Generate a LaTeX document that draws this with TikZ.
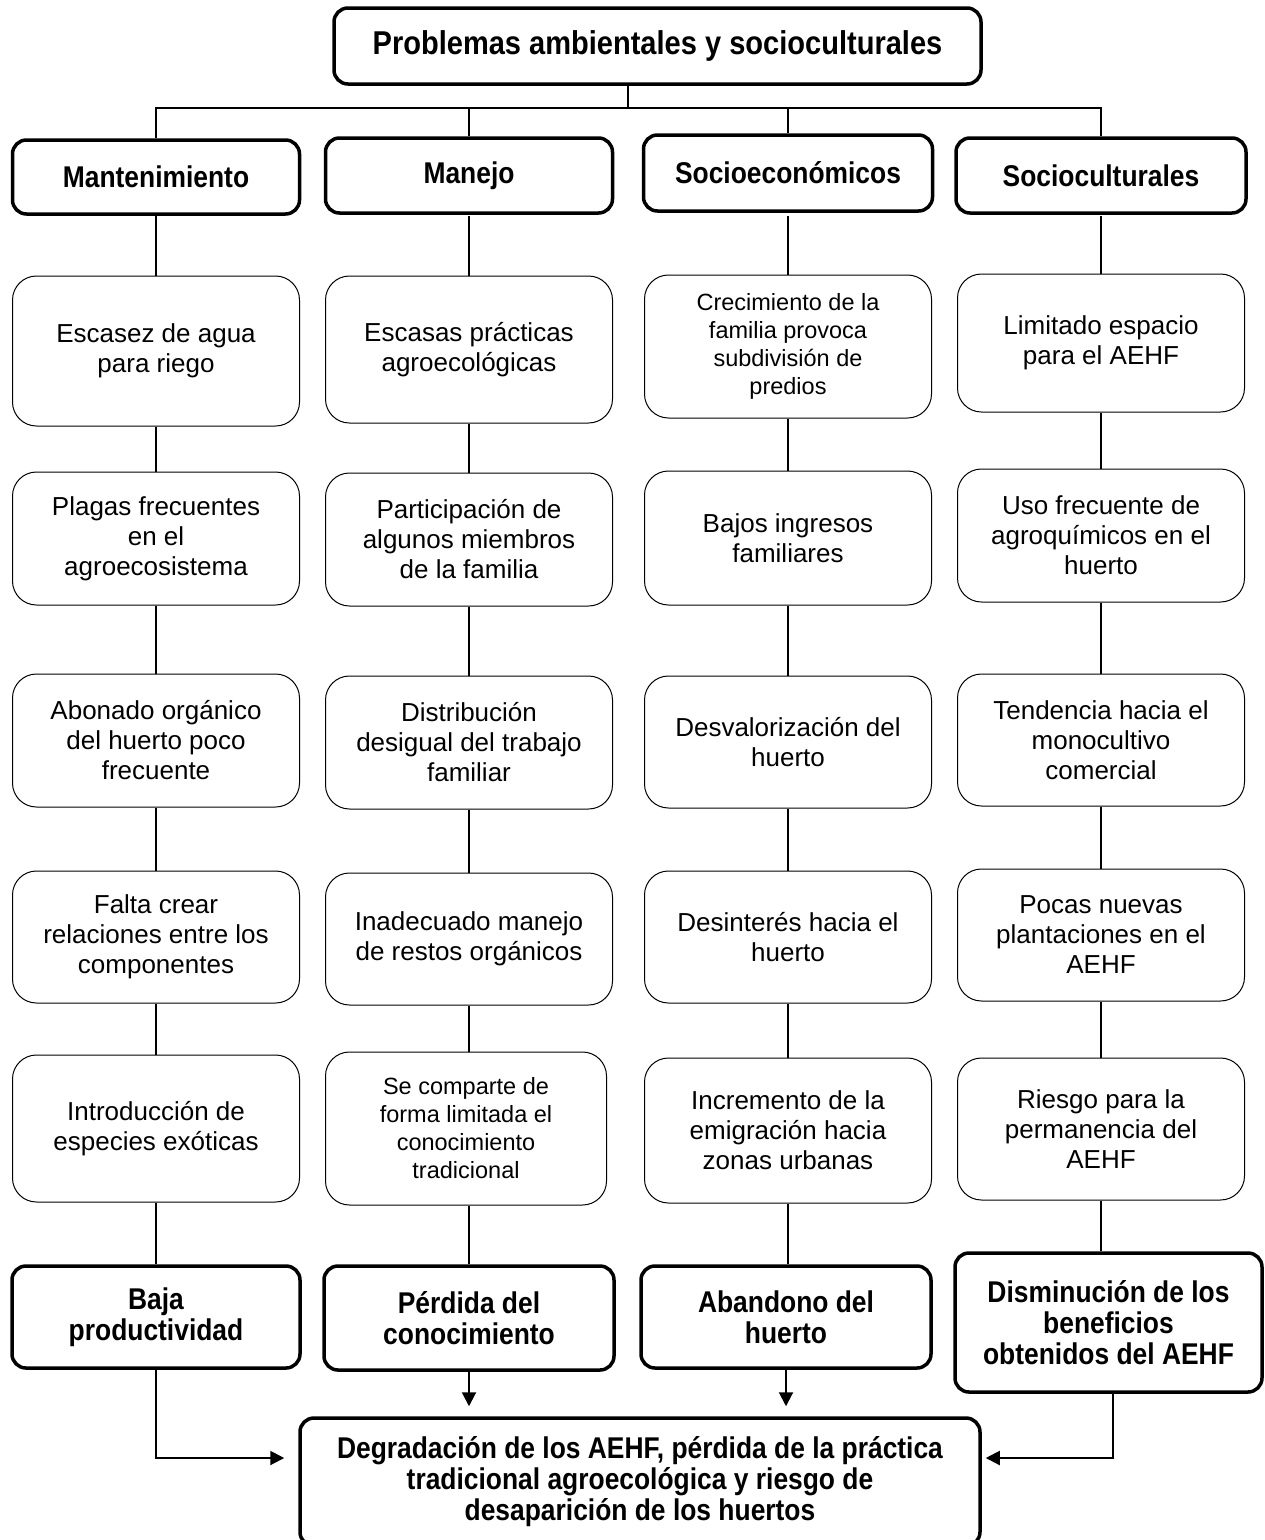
\documentclass[tikz,border=0pt]{standalone}
\usepackage{fontspec}
\setmainfont{Liberation Sans}[BoldFeatures={FakeStretch=0.88}]
\usetikzlibrary{arrows.meta}
\begin{document}
\begin{tikzpicture}[x=1pt,y=-1pt,
  bold/.style={draw, line width=3.5pt, rounded corners=14pt, align=center, inner sep=0pt,
    font=\bfseries\fontsize{30}{31}\selectfont},
  item/.style={draw, line width=1pt, rounded corners=24pt, align=center, inner sep=0pt,
    minimum width=287pt, font=\fontsize{26}{30}\selectfont},
  small/.style={font=\fontsize{23.5}{28}\selectfont},
  conn/.style={line width=2pt},
  arr/.style={line width=2pt, -{Triangle[length=14pt,width=14pt]}}
]
\useasboundingbox (0,0) rectangle (1265,1540);
% title
\node[bold, minimum width=647pt, minimum height=76pt, font=\bfseries\fontsize{33}{34}\selectfont] (title) at (657.5,46) {Problemas ambientales y socioculturales};
% headers
\node[bold, minimum width=287pt, minimum height=74pt] (h1) at (156,177) {Mantenimiento};
\node[bold, minimum width=287pt, minimum height=75pt] (h2) at (469,175.5) {Manejo\vphantom{M}};
\node[bold, minimum width=289pt, minimum height=76pt] (h3) at (788,173) {Socioeconómicos};
\node[bold, minimum width=290pt, minimum height=75pt] (h4) at (1101,175.5) {Socioculturales};
% column 1
\node[item, minimum height=150pt] (a1) at (156,351) {Escasez de agua\\para riego};
\node[item, minimum height=133pt] (a2) at (156,538.5) {Plagas frecuentes\\en el\\agroecosistema};
\node[item, minimum height=133pt] (a3) at (156,740.5) {Abonado orgánico\\del huerto poco\\frecuente};
\node[item, minimum height=132pt] (a4) at (156,937) {Falta crear\\relaciones entre los\\componentes};
\node[item, minimum height=147pt] (a5) at (156,1128.5) {Introducción de\\especies exóticas};
% column 2
\node[item, minimum height=147pt] (b1) at (469,349.5) {Escasas prácticas\\agroecológicas};
\node[item, minimum height=133pt] (b2) at (469,539.5) {Participación de\\algunos miembros\\de la familia};
\node[item, minimum height=133pt] (b3) at (469,742.5) {Distribución\\desigual del trabajo\\familiar};
\node[item, minimum height=132pt] (b4) at (469,939) {Inadecuado manejo\\de restos orgánicos};
\node[item, small, minimum width=281pt, minimum height=153pt] (b5) at (466,1128.5) {Se comparte de\\forma limitada el\\conocimiento\\tradicional};
% column 3
\node[item, small, minimum height=143pt] (c1) at (788,346.5) {Crecimiento de la\\familia provoca\\subdivisión de\\predios};
\node[item, minimum height=134pt] (c2) at (788,538) {Bajos ingresos\\familiares};
\node[item, minimum height=132pt] (c3) at (788,742) {Desvalorización del\\huerto};
\node[item, minimum height=132pt] (c4) at (788,937) {Desinterés hacia el\\huerto};
\node[item, minimum height=145pt] (c5) at (788,1130.5) {Incremento de la\\emigración hacia\\zonas urbanas};
% column 4
\node[item, minimum height=138pt] (d1) at (1101,343) {Limitado espacio\\para el AEHF};
\node[item, minimum height=133pt] (d2) at (1101,535.5) {Uso frecuente de\\agroquímicos en el\\huerto};
\node[item, minimum height=132pt] (d3) at (1101,740) {Tendencia hacia el\\monocultivo\\comercial};
\node[item, minimum height=132pt] (d4) at (1101,935) {Pocas nuevas\\plantaciones en el\\AEHF};
\node[item, minimum height=142pt] (d5) at (1101,1129) {Riesgo para la\\permanencia del\\AEHF};
% bottom outcomes
\node[bold, minimum width=288pt, minimum height=102pt] (e1) at (156,1317) {\raisebox{-4pt}{\shortstack{Baja\\productividad}}};
\node[bold, minimum width=290pt, minimum height=104pt] (e2) at (469,1318) {Pérdida del\\conocimiento};
\node[bold, minimum width=290pt, minimum height=102pt] (e3) at (786,1317) {Abandono del\\huerto};
\node[bold, minimum width=307pt, minimum height=139pt] (e4) at (1108.5,1322.5) {Disminución de los\\beneficios\\obtenidos del AEHF};
% final (runs past the lower edge)
\node[bold, minimum width=680pt, minimum height=128pt] (fin) at (640,1482) {Degradación de los AEHF, pérdida de la práctica\\tradicional agroecológica y riesgo de\\desaparición de los huertos};
% tree connectors
\coordinate (tb) at (628,108);
\draw[conn] (title.south -| tb) -- (tb);
\draw[conn] (h1.north) -- (h1.north |- tb) -- (h4.north |- tb) -- (h4.north);
\draw[conn] (h2.north) -- (h2.north |- tb);
\draw[conn] (h3.north) -- (h3.north |- tb);
% column connectors
\foreach \c in {a,b,c,d}{
  \draw[conn] (\c1.north |- h1.south) -- (\c1.north);
  \draw[conn] (\c1.south) -- (\c2.north);
  \draw[conn] (\c2.south) -- (\c3.north);
  \draw[conn] (\c3.south) -- (\c4.north);
  \draw[conn] (\c4.south) -- (\c4.south |- \c5.north);
}
\draw[conn] (a5.south) -- (a5.south |- e1.north);
\draw[conn] (b4.south |- b5.south) -- (b4.south |- e2.north);
\draw[conn] (c5.south) -- (c5.south |- e3.north);
\draw[conn] (d5.south) -- (d5.south |- e4.north);
% arrows to final
\coordinate (ly) at (0,1458);
\draw[arr, shorten >=14pt] (e1.south) |- (fin.west |- ly);
\draw[arr, shorten >=10pt] (e2.south) -- (e2.south |- fin.north);
\draw[arr, shorten >=10pt] (e3.south) -- (e3.south |- fin.north);
\draw[arr, shorten >=4pt] ([xshift=4pt]e4.south) |- (fin.east |- ly);
\end{tikzpicture}
\end{document}
